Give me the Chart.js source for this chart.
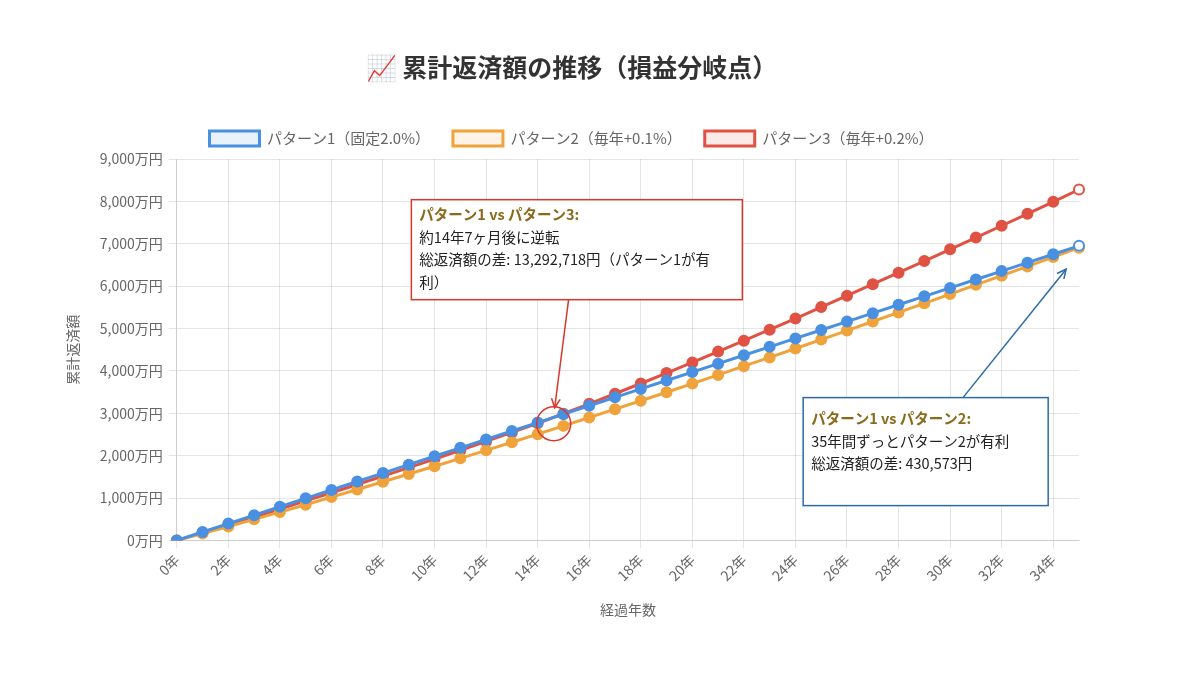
<!DOCTYPE html>
<html lang="ja">
<head>
<meta charset="utf-8">
<title>累計返済額の推移</title>
<script src="https://cdn.jsdelivr.net/npm/chart.js@4.4.1/dist/chart.umd.min.js"></script>
<style>
    html, body { margin: 0; padding: 0; background: #fff; }
    #wrap { width: 1200px; height: 675px; position: relative; }
</style>
</head>
<body>
<div id="wrap"><canvas id="repayChart"></canvas></div>
<script>
// 経過年数 0〜35年
const years = Array.from({ length: 36 }, (_, i) => i);
const yearLabels = years.map(y => `${y}年`);

// 累計返済額（万円）— グラフから読み取った値
const pattern1 = [0, 199, 397, 596, 794, 993, 1192, 1390, 1589, 1787, 1986, 2185, 2383, 2582, 2780, 2979, 3178, 3376,
    3575, 3773, 3972, 4171, 4369, 4568, 4766, 4965, 5164, 5362, 5561, 5759, 5958, 6157, 6355, 6554, 6752, 6951];
const pattern2 = [0, 164, 329, 498, 669, 843, 1022, 1202, 1384, 1567, 1751, 1937, 2125, 2316, 2508, 2703, 2900, 3097,
    3297, 3497, 3700, 3905, 4111, 4319, 4528, 4739, 4952, 5165, 5380, 5595, 5812, 6030, 6247, 6466, 6686, 6908];
const pattern3 = [0, 184, 367, 554, 742, 933, 1126, 1320, 1518, 1717, 1920, 2127, 2336, 2549, 2764, 2989, 3223, 3461,
    3703, 3948, 4200, 4455, 4712, 4972, 5235, 5505, 5775, 6045, 6318, 6592, 6868, 7145, 7425, 7706, 7990, 8280];

const seriesNames = ['パターン1（固定2.0%）', 'パターン2（毎年+0.1%）', 'パターン3（毎年+0.2%）'];
const yTicks = [0, 1000, 2000, 3000, 4000, 5000, 6000, 7000, 8000, 9000];

// 注釈テキスト
const note13 = ['パターン1 vs パターン3:', '約14年7ヶ月後に逆転', '総返済額の差: 13,292,718円（パターン1が有', '利）'];
const note12 = ['パターン1 vs パターン2:', '35年間ずっとパターン2が有利', '総返済額の差: 430,573円'];
const crossYear = 14 + 7 / 12;

const FONT = '"Noto Sans CJK JP", "Noto Sans", sans-serif';
const BLUE = '#4a90e2';
const ORANGE = '#f0a23b';
const RED = '#e05243';

function lastWhite(color, n) {
    return Array.from({ length: n }, (_, i) => (i === n - 1 ? '#ffffff' : color));
}

function makeDataset(label, data, color, fill) {
    return {
        label,
        data,
        borderColor: color,
        backgroundColor: fill,
        borderWidth: 3,
        pointRadius: 5,
        pointBackgroundColor: lastWhite(color, data.length),
        pointBorderColor: color,
        pointBorderWidth: 2,
        tension: 0,
        fill: false
    };
}

function drawArrow(ctx, x1, y1, x2, y2, color) {
    const ang = Math.atan2(y2 - y1, x2 - x1);
    ctx.save();
    ctx.strokeStyle = color;
    ctx.lineWidth = 1.5;
    ctx.beginPath();
    ctx.moveTo(x1, y1);
    ctx.lineTo(x2, y2);
    ctx.stroke();
    ctx.beginPath();
    ctx.moveTo(x2 - 10 * Math.cos(ang - 0.45), y2 - 10 * Math.sin(ang - 0.45));
    ctx.lineTo(x2, y2);
    ctx.lineTo(x2 - 10 * Math.cos(ang + 0.45), y2 - 10 * Math.sin(ang + 0.45));
    ctx.stroke();
    ctx.restore();
}

function drawNote(ctx, x, y, w, h, lines, border, firstLine) {
    ctx.save();
    ctx.fillStyle = '#ffffff';
    ctx.fillRect(x, y, w, h);
    ctx.strokeStyle = border;
    ctx.lineWidth = 1.5;
    ctx.strokeRect(x, y, w, h);
    ctx.textBaseline = 'middle';
    lines.forEach((line, i) => {
        if (i === 0) {
            ctx.font = `bold 14.5px ${FONT}`;
            ctx.fillStyle = '#8a6a1c';
        } else {
            ctx.font = `14.5px ${FONT}`;
            ctx.fillStyle = '#222222';
        }
        ctx.fillText(line, x + 8, y + firstLine + i * 22.5);
    });
    ctx.restore();
}

// 凡例の下に少し余白を足す
const legendGap = {
    id: 'legendGap',
    beforeInit(chart) {
        const fit = chart.legend.fit;
        chart.legend.fit = function () {
            fit.bind(chart.legend)();
            this.height += 3;
        };
    }
};

// 注釈（吹き出し・矢印・交点の円）
const notesPlugin = {
    id: 'notes',
    afterDatasetsDraw(chart) {
        const { ctx, scales: { x, y } } = chart;
        const px = v => x.getPixelForValue(v);
        const py = v => y.getPixelForValue(v);

        // パターン1 vs パターン3
        const crossVal = pattern1[14] + (pattern1[15] - pattern1[14]) * (crossYear - 14);
        const cx = px(crossYear);
        const cy = py(crossVal);
        const b1x = px(9.1), b1y = py(8040);
        drawArrow(ctx, px(15.2), b1y + 100, cx + 2, cy - 10, '#d6392c');
        ctx.save();
        ctx.strokeStyle = '#d6392c';
        ctx.lineWidth = 1.5;
        ctx.beginPath();
        ctx.arc(cx + 1, cy + 6, 17, 0, Math.PI * 2);
        ctx.stroke();
        ctx.restore();
        drawNote(ctx, b1x, b1y, 331, 100, note13, '#d6392c', 15);

        // パターン1 vs パターン2
        const b2x = px(24.3), b2y = py(3370);
        drawArrow(ctx, px(30.5), b2y, px(34.5), py(6400), '#2a6aa6');
        drawNote(ctx, b2x, b2y, 245, 108, note12, '#2a6aa6', 21);
    }
};

const ctx = document.getElementById('repayChart').getContext('2d');
new Chart(ctx, {
    type: 'line',
    data: {
        labels: yearLabels,
        datasets: [
            makeDataset(seriesNames[0], pattern1, BLUE, 'rgba(74, 144, 226, 0.12)'),
            makeDataset(seriesNames[1], pattern2, ORANGE, 'rgba(240, 162, 59, 0.12)'),
            makeDataset(seriesNames[2], pattern3, RED, 'rgba(224, 82, 67, 0.12)')
        ]
    },
    options: {
        responsive: true,
        maintainAspectRatio: false,
        animation: false,
        layout: {
            padding: { left: 64, right: 121, top: 52, bottom: 57 }
        },
        scales: {
            y: {
                min: 0,
                max: 9000,
                afterBuildTicks: axis => {
                    axis.ticks = yTicks.map(v => ({ value: v }));
                },
                title: {
                    display: true,
                    text: '累計返済額',
                    color: '#666',
                    font: { family: FONT, size: 14 },
                    padding: { top: 0, bottom: 13 }
                },
                grid: { color: 'rgba(0, 0, 0, 0.1)' },
                ticks: {
                    color: '#666',
                    font: { family: FONT, size: 14 },
                    padding: 6,
                    callback: v => `${v.toLocaleString('ja-JP')}万円`
                }
            },
            x: {
                title: {
                    display: true,
                    text: '経過年数',
                    color: '#666',
                    font: { family: FONT, size: 14 },
                    padding: { top: 14, bottom: 0 }
                },
                grid: { color: 'rgba(0, 0, 0, 0.1)' },
                ticks: {
                    color: '#666',
                    font: { family: FONT, size: 14 },
                    autoSkip: false,
                    maxRotation: 45,
                    minRotation: 45,
                    callback: function (val, idx) {
                        return idx % 2 === 0 ? yearLabels[idx] : null;
                    }
                }
            }
        },
        plugins: {
            title: {
                display: true,
                text: '📈 累計返済額の推移（損益分岐点）',
                color: '#333',
                font: { family: FONT, size: 25, weight: 'bold' },
                padding: { top: 0, bottom: 26 }
            },
            legend: {
                position: 'top',
                labels: {
                    color: '#666',
                    font: { family: FONT, size: 15 },
                    boxWidth: 50,
                    boxHeight: 15,
                    padding: 23
                }
            },
            tooltip: { enabled: false }
        }
    },
    plugins: [legendGap, notesPlugin]
});
</script>
</body>
</html>
